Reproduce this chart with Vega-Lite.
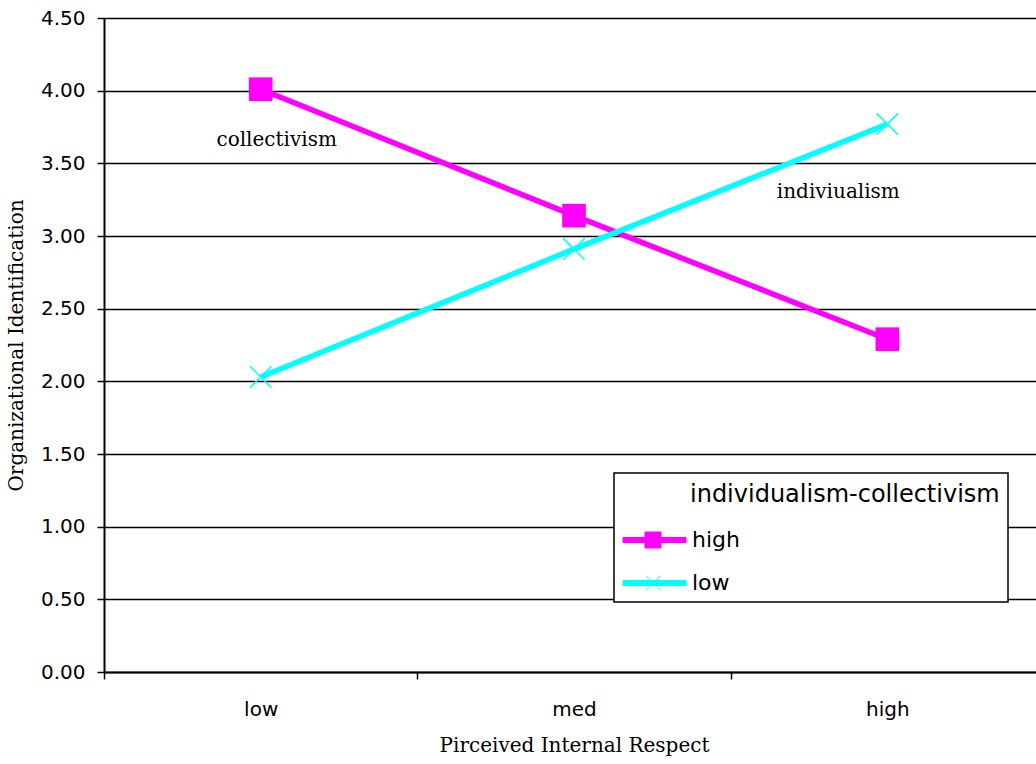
{
  "$schema": "https://vega.github.io/schema/vega-lite/v6.json",
  "width": 932,
  "height": 654,
  "autosize": "none",
  "padding": {"left": 104, "top": 18, "right": 0, "bottom": 92},
  "background": "white",
  "config": {
    "view": {"stroke": null},
    "axis": {
      "labelFont": "DejaVu Sans",
      "labelColor": "#000",
      "titleFont": "DejaVu Serif",
      "titleFontSize": 20,
      "titleFontWeight": "normal",
      "titleColor": "#000",
      "domainColor": "#000",
      "tickColor": "#000"
    }
  },
  "datasets": {
    "scores": [
      {"respect": "low", "ic": "high", "identification": 4.01},
      {"respect": "med", "ic": "high", "identification": 3.14},
      {"respect": "high", "ic": "high", "identification": 2.29},
      {"respect": "low", "ic": "low", "identification": 2.03},
      {"respect": "med", "ic": "low", "identification": 2.91},
      {"respect": "high", "ic": "low", "identification": 3.77}
    ],
    "notes": [
      {"respect": "low", "identification": 3.66, "note": "collectivism"},
      {"respect": "high", "identification": 3.30, "note": "indiviualism"}
    ]
  },
  "data": {"name": "scores"},
  "encoding": {
    "x": {
      "field": "respect",
      "type": "ordinal",
      "sort": ["low", "med", "high"],
      "scale": {"type": "band", "domain": ["low", "med", "high"], "range": [0, 940], "paddingInner": 0, "paddingOuter": 0},
      "axis": {
        "title": "Pirceived Internal Respect",
        "labelAngle": 0,
        "labelFontSize": 20,
        "labelPadding": 20,
        "tickBand": "extent",
        "tickSize": 7,
        "tickWidth": 1.5,
        "domainWidth": 2,
        "grid": false,
        "titlePadding": 16
      }
    },
    "y": {
      "field": "identification",
      "type": "quantitative",
      "scale": {"domain": [0, 4.5], "nice": false, "zero": true},
      "axis": {
        "title": "Organizational Identification",
        "values": [0, 0.5, 1, 1.5, 2, 2.5, 3, 3.5, 4, 4.5],
        "format": ".2f",
        "labelFontSize": 20,
        "labelPadding": 12,
        "tickSize": 7,
        "tickWidth": 1.5,
        "domainWidth": 2,
        "grid": true,
        "gridColor": "#000",
        "gridWidth": 1.5,
        "gridOpacity": 1,
        "titlePadding": 14
      }
    },
    "color": {
      "field": "ic",
      "type": "nominal",
      "scale": {"domain": ["high", "low"], "range": ["#FF00FF", "#00FFFF"]},
      "legend": {
        "title": "individualism-collectivism",
        "titleLimit": 500,
        "orient": "none",
        "legendX": 510,
        "legendY": 455,
        "padding": 8,
        "strokeColor": "#000",
        "fillColor": "#fff",
        "titleFont": "DejaVu Sans",
        "titleFontSize": 24,
        "titleFontWeight": "normal",
        "titleColor": "#000",
        "titlePadding": 24,
        "labelFont": "DejaVu Sans",
        "labelFontSize": 22,
        "labelColor": "#000",
        "labelOffset": 6,
        "symbolSize": 400,
        "symbolOffset": 42,
        "symbolStrokeWidth": 1,
        "rowPadding": 21,
        "encode": {
          "legend": {"update": {"strokeWidth": {"value": 1.5}}},
          "title": {"update": {"dx": {"value": 68}, "dy": {"value": 2}}},
          "symbols": {"update": {
            "opacity": {"value": 1},
            "shape": {"scale": "shape", "field": "value"},
            "size": {"value": 400},
            "strokeWidth": {"value": 1},
            "stroke": {"scale": "color", "field": "value"},
            "fill": {"scale": "color", "field": "value"}
          }}
        }
      }
    }
  },
  "layer": [
    {
      "mark": {"type": "line", "strokeWidth": 5.5}
    },
    {
      "transform": [{"filter": "datum.ic === 'high'"}],
      "mark": {"type": "point", "shape": "square", "filled": true, "size": 560, "opacity": 1}
    },
    {
      "transform": [{"filter": "datum.ic === 'low'"}],
      "mark": {"type": "point", "shape": "M-1,-1L1,1M-1,1L1,-1", "filled": false, "size": 460, "strokeWidth": 1.5, "opacity": 1}
    },
    {
      "mark": {"type": "point", "filled": true, "opacity": 0},
      "encoding": {
        "shape": {
          "field": "ic",
          "type": "nominal",
          "scale": {
            "domain": ["high", "low"],
            "range": [
              "M-5.2,-0.25H1.1V0.25H-5.2ZM-3,-0.8H-1.4V0.8H-3Z",
              "M-5.2,-0.25H1.1V0.25H-5.2ZM-2.9,-0.75L-1.4,0.75M-2.9,0.75L-1.4,-0.75"
            ]
          }
        }
      }
    },
    {
      "data": {"name": "notes"},
      "transform": [{"filter": "datum.note === 'collectivism'"}],
      "mark": {"type": "text", "font": "DejaVu Serif", "fontSize": 20, "align": "center", "baseline": "middle", "dx": 16},
      "encoding": {
        "x": {"field": "respect", "type": "ordinal", "bandPosition": 0.5},
        "text": {"field": "note"},
        "color": {"value": "#000"}
      }
    },
    {
      "data": {"name": "notes"},
      "transform": [{"filter": "datum.note === 'indiviualism'"}],
      "mark": {"type": "text", "font": "DejaVu Serif", "fontSize": 20, "align": "center", "baseline": "middle", "dx": -49},
      "encoding": {
        "x": {"field": "respect", "type": "ordinal", "bandPosition": 0.5},
        "text": {"field": "note"},
        "color": {"value": "#000"}
      }
    }
  ]
}
